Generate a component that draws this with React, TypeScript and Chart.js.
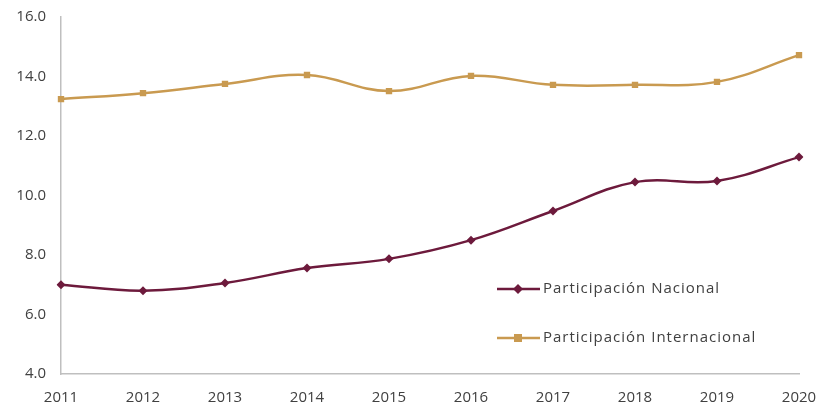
import React, { useEffect, useRef } from "react";
import { Chart, registerables } from "chart.js";

Chart.register(...registerables);

const years = ["2011", "2012", "2013", "2014", "2015", "2016", "2017", "2018", "2019", "2020"];
const nacional = [7.0, 6.8, 7.06, 7.56, 7.87, 8.5, 9.48, 10.45, 10.49, 11.29];
const internacional = [13.24, 13.44, 13.75, 14.05, 13.51, 14.02, 13.72, 13.72, 13.82, 14.72];
const nacionalLabel = "Participación Nacional";
const internacionalLabel = "Participación Internacional";

const MAROON = "#6d1a3c";
const TAN = "#c99a50";
const FONT = "'Open Sans', 'Noto Sans', sans-serif";

const legendPlugin = {
  id: "insideLegend",
  afterDraw(chart: any) {
    const ctx = chart.ctx;
    const items = [
      { label: nacionalLabel, color: MAROON, style: "rectRot", y: 289 },
      { label: internacionalLabel, color: TAN, style: "rect", y: 338 },
    ];
    ctx.save();
    items.forEach((it) => {
      ctx.strokeStyle = it.color;
      ctx.lineWidth = 2.5;
      ctx.beginPath();
      ctx.moveTo(497, it.y);
      ctx.lineTo(540, it.y);
      ctx.stroke();
      ctx.fillStyle = it.color;
      if (it.style === "rect") {
        ctx.fillRect(514, it.y - 4, 8, 8);
      } else {
        ctx.beginPath();
        ctx.moveTo(518, it.y - 5);
        ctx.lineTo(523, it.y);
        ctx.lineTo(518, it.y + 5);
        ctx.lineTo(513, it.y);
        ctx.closePath();
        ctx.fill();
      }
      ctx.fillStyle = "#404040";
      ctx.font = `15px ${FONT}`;
      (ctx as any).letterSpacing = "1px";
      ctx.textBaseline = "middle";
      ctx.textAlign = "left";
      ctx.fillText(it.label, 543, it.y);
      (ctx as any).letterSpacing = "0px";
    });
    ctx.restore();
  },
};

export default function App() {
  const ref = useRef<HTMLCanvasElement>(null);
  useEffect(() => {
    if (!ref.current) return;
    const chart = new Chart(ref.current, {
      type: "line",
      data: {
        labels: years,
        datasets: [
          {
            label: nacionalLabel,
            data: nacional,
            borderColor: MAROON,
            backgroundColor: MAROON,
            borderWidth: 2.5,
            pointStyle: "rectRot",
            pointRadius: 4.5,
            pointBorderWidth: 0,
            tension: 0.4,
          },
          {
            label: internacionalLabel,
            data: internacional,
            borderColor: TAN,
            backgroundColor: TAN,
            borderWidth: 2.5,
            pointStyle: "rect",
            pointRadius: 4.5,
            pointBorderWidth: 0,
            tension: 0.4,
          },
        ],
      },
      options: {
        animation: false,
        responsive: false,
        maintainAspectRatio: false,
        layout: { padding: { top: 17, right: 24, left: 0, bottom: 0 } },
        plugins: { legend: { display: false }, tooltip: { enabled: false } },
        scales: {
          x: {
            offset: false,
            grid: { display: false, drawTicks: false },
            border: { display: true, color: "#bfbfbf", width: 1.5 },
            ticks: {
              color: "#404040",
              font: { family: FONT, size: 15 },
              padding: 15,
              maxRotation: 0,
              autoSkip: false,
            },
            afterFit: (s: any) => {
              s.height = 34;
              s.paddingLeft = 0;
              s.paddingRight = 0;
            },
          },
          y: {
            min: 4,
            max: 16,
            grid: { display: false, drawTicks: false },
            border: { display: true, color: "#bfbfbf", width: 1.5 },
            ticks: {
              stepSize: 2,
              color: "#404040",
              font: { family: FONT, size: 15 },
              padding: 15,
              callback: (v: any) => Number(v).toFixed(1),
            },
            afterFit: (s: any) => {
              s.width = 61;
              s.paddingTop = 0;
              s.paddingBottom = 0;
            },
          },
        },
      },
      plugins: [legendPlugin],
    });
    return () => chart.destroy();
  }, []);
  return (
    <div style={{ position: "fixed", left: 0, top: 0, width: 823, height: 408, background: "#fff" }}>
      <canvas ref={ref} width={823} height={408} style={{ width: 823, height: 408 }} />
    </div>
  );
}
